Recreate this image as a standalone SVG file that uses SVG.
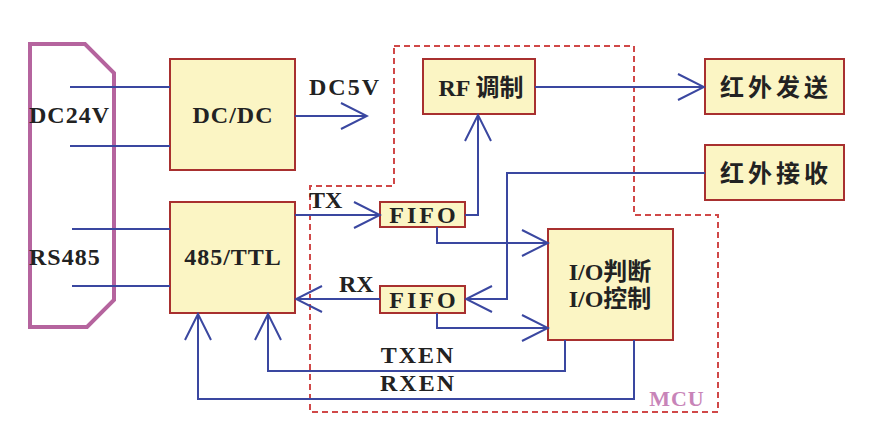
<svg xmlns="http://www.w3.org/2000/svg" width="886" height="441" viewBox="0 0 886 441">
<defs>
<marker id="arr" markerUnits="userSpaceOnUse" markerWidth="30" markerHeight="30" viewBox="0 0 30 30" refX="28" refY="15" orient="auto">
<path d="M2,2 L28,15 L2,28" fill="none" stroke="#3a47a0" stroke-width="2"/>
</marker>
<style>
.box{fill:#fbf5c4;stroke:#a8302f;stroke-width:2}
.ln{fill:none;stroke:#3a47a0;stroke-width:2}
.t{font-family:"Liberation Serif","Noto Sans CJK SC",serif;font-weight:bold;font-size:24px;fill:#222}
.c{text-anchor:middle}
.zh{font-family:"Liberation Serif","Noto Sans CJK SC",sans-serif;font-weight:bold;font-size:24px;fill:#222;text-anchor:middle}
</style>
</defs>
<rect width="886" height="441" fill="#fff"/>
<g id="mcu-boundary">
<polygon points="394,46 634,46 634,215 718,215 718,412 310,412 310,186 394,186" fill="none" stroke="#d04848" stroke-width="2" stroke-dasharray="6,4"/>
<text class="t" x="677" y="406" text-anchor="middle" font-size="22" fill="#c884b8" style="fill:#c884b8;font-size:22px" letter-spacing="1">MCU</text>
</g>
<g id="connector-plug">
<polygon points="30,44 85,44 114,73 114,300 87,327 30,327" fill="none" stroke="#b5649e" stroke-width="4"/>
<text class="t" x="29" y="123" letter-spacing="1">DC24V</text>
<text class="t" x="29" y="265" letter-spacing="1">RS485</text>
</g>
<g id="dcdc"><rect class="box" x="170" y="59" width="125" height="111"/><text class="t c" x="233" y="123" letter-spacing="1">DC/DC</text></g>
<g id="ttl"><rect class="box" x="170" y="202" width="125" height="111"/><text class="t c" x="233" y="265" letter-spacing="1">485/TTL</text></g>
<g id="rf"><rect class="box" x="423" y="59" width="112" height="55"/><text class="zh" x="481" y="96">RF 调制</text></g>
<g id="irtx"><rect class="box" x="705" y="59" width="139" height="55"/><text class="zh" x="776" y="96" letter-spacing="4">红外发送</text></g>
<g id="irrx"><rect class="box" x="705" y="145" width="139" height="55"/><text class="zh" x="776" y="182" letter-spacing="4">红外接收</text></g>
<g id="fifo1"><rect class="box" x="380" y="202" width="85" height="25"/><text class="t c" x="424" y="223" font-size="22" letter-spacing="3">FIFO</text></g>
<g id="fifo2"><rect class="box" x="380" y="286" width="85" height="27"/><text class="t c" x="424" y="308" font-size="22" letter-spacing="3">FIFO</text></g>
<g id="io"><rect class="box" x="548" y="229" width="125" height="111"/><text class="zh" x="610" y="280">I/O判断</text><text class="zh" x="610" y="307">I/O控制</text></g>
<g id="connectors">
<line class="ln" x1="70" y1="87" x2="170" y2="87"/>
<line class="ln" x1="70" y1="146" x2="170" y2="146"/>
<line class="ln" x1="72" y1="229" x2="170" y2="229"/>
<line class="ln" x1="72" y1="286" x2="170" y2="286"/>
<line class="ln" x1="295" y1="116" x2="367" y2="116" marker-end="url(#arr)"/>
<line class="ln" x1="535" y1="87" x2="704" y2="87" marker-end="url(#arr)"/>
<line class="ln" x1="295" y1="215" x2="380" y2="215" marker-end="url(#arr)"/>
<polyline class="ln" points="465,215 478,215 478,115" marker-end="url(#arr)"/>
<polyline class="ln" points="705,173 507,173 507,299 466,299" marker-end="url(#arr)"/>
<line class="ln" x1="380" y1="299" x2="296" y2="299" marker-end="url(#arr)"/>
<polyline class="ln" points="437,227 437,243 548,243" marker-end="url(#arr)"/>
<polyline class="ln" points="437,313 437,328 548,328" marker-end="url(#arr)"/>
<polyline class="ln" points="565,340 565,371 268,371 268,314" marker-end="url(#arr)"/>
<polyline class="ln" points="634,340 634,399 198,399 198,314" marker-end="url(#arr)"/>
<text class="t" x="309" y="95" letter-spacing="2">DC5V</text>
<text class="t" x="309" y="208">TX</text>
<text class="t" x="339" y="292">RX</text>
<text class="t c" x="418" y="363" font-size="22" letter-spacing="2">TXEN</text>
<text class="t c" x="418" y="391" font-size="22" letter-spacing="2">RXEN</text>
</g>
</svg>
